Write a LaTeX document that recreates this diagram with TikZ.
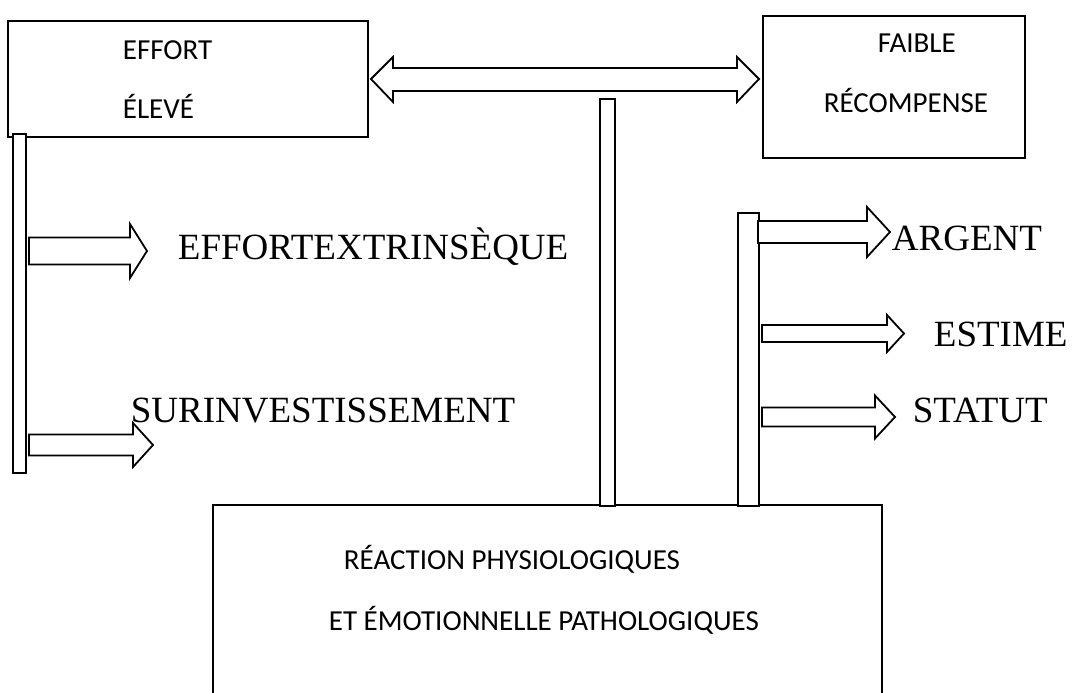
\documentclass[tikz,border=0pt]{standalone}
\usepackage{fontspec}
\setmainfont{Liberation Serif}
\newfontfamily\calib{Carlito}
\begin{document}
\begin{tikzpicture}[x=1pt,y=-1pt,
  line width=1.8pt,
  boxstyle/.style={draw, line width=1.8pt, inner sep=0pt, anchor=north west},
  barstyle/.style={draw, fill=white, line width=1.8pt, inner sep=0pt, anchor=north west},
  blk/.style={draw, fill=white, line width=1.8pt, line join=miter},
  calibtext/.style={inner sep=0pt, anchor=base west, font=\calib\fontsize{29}{29}\selectfont},
  serftext/.style={inner sep=0pt, anchor=base west, font=\fontsize{37}{37}\selectfont}]
\useasboundingbox (0,0) rectangle (1072,693);
\fill[white] (0,0) rectangle (1072,693);

% boxes
\node[boxstyle, minimum width=360pt, minimum height=116pt] (effort) at (7,20) {};
\node[boxstyle, minimum width=262pt, minimum height=142pt] (faible) at (762,15) {};
\draw[line width=1.8pt] (213,700) -- (213,505) -- (882,505) -- (882,700);
\coordinate (reac) at (547,505);

% texts in boxes
\node[calibtext] (t1) at (122,60) {EFFORT};
\node[calibtext] (t2) at (122,118) {ÉLEVÉ};
\node[calibtext] (t3) at (877,53) {FAIBLE};
\node[calibtext] (t4) at (823,113) {RÉCOMPENSE};
\node[calibtext] (t5) at (343,569) {RÉACTION PHYSIOLOGIQUES};
\node[calibtext] (t6) at (328,630) {ET ÉMOTIONNELLE PATHOLOGIQUES};

% bars
\node[barstyle, minimum width=13pt, minimum height=339pt] (lbar) at (12,133) {};
\node[barstyle, minimum width=15pt, minimum height=407pt] (cbar) at (599,98) {};
\node[barstyle, minimum width=21pt, minimum height=293pt] (rbar) at (737,212) {};

% double arrow
\draw[blk] (371,79) -- (393,57) -- (393,68) -- (737,68) -- (737,57) -- (759,79)
  -- (737,102) -- (737,91) -- (393,91) -- (393,102) -- cycle;

% block arrows: start, head back, tip, y centre, shaft half, head half
\newcommand\blockarrow[6]{%
  \draw[blk] (#1,{#4-#5}) -- (#2,{#4-#5}) -- (#2,{#4-#6}) -- (#3,#4)
    -- (#2,{#4+#6}) -- (#2,{#4+#5}) -- (#1,{#4+#5}) -- cycle;}
\blockarrow{29}{130}{147}{251}{13.5}{27}
\blockarrow{29}{133}{153}{445}{10.5}{22}
\blockarrow{758}{867}{890}{232}{11}{25}
\blockarrow{762}{887}{904}{333.5}{8.5}{18.5}
\blockarrow{762}{875}{895}{417}{9.5}{21.5}

% serif labels
\node[serftext] (l1) at (177,259) {EFFORTEXTRINSÈQUE};
\node[serftext] (l2) at (130,422) {SURINVESTISSEMENT};
\node[serftext] (l3) at (891,250) {ARGENT};
\node[serftext] (l4) at (933,346) {ESTIME};
\node[serftext] (l5) at (912,422) {STATUT};
\end{tikzpicture}
\end{document}
